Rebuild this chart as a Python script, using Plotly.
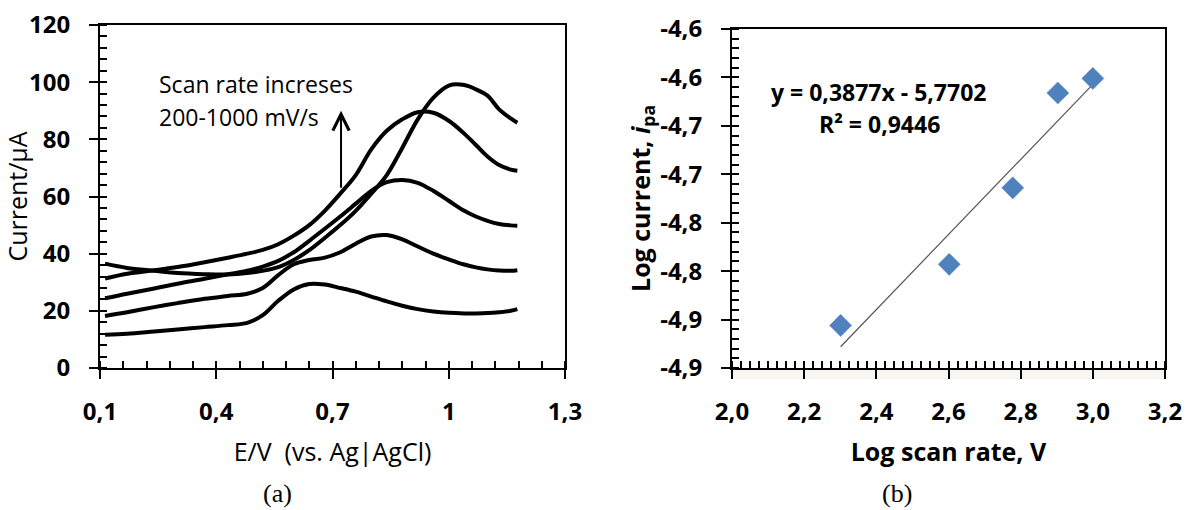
import plotly.graph_objects as go

# ---------------- data: panel (a) cyclic voltammograms ----------------
E_V = [0.113, 0.17, 0.24, 0.30, 0.37, 0.43, 0.48, 0.52, 0.56, 0.60, 0.64, 0.68,
       0.72, 0.76, 0.80, 0.84, 0.88, 0.92, 0.96, 1.00, 1.04, 1.07, 1.10, 1.13,
       1.16, 1.177]
I_200 = [11.6, 12.0, 12.8, 13.5, 14.3, 15.0, 15.8, 18.5, 23.5, 27.5, 29.4, 29.2,
         28.0, 26.7, 25.0, 23.3, 21.8, 20.6, 19.8, 19.3, 19.1, 19.1, 19.2, 19.5,
         20.0, 20.6]
I_400 = [18.2, 19.5, 21.3, 22.7, 24.2, 25.2, 26.0, 28.0, 32.5, 36.3, 37.8, 38.6,
         40.5, 43.5, 46.0, 46.5, 45.0, 42.5, 40.0, 38.0, 36.2, 35.2, 34.5, 34.1,
         34.0, 34.2]
I_600 = [24.4, 26.0, 27.8, 29.5, 31.2, 32.8, 34.0, 35.5, 37.5, 40.5, 44.5, 48.7,
         53.0, 57.5, 62.0, 65.0, 65.8, 64.8, 62.0, 58.5, 55.0, 53.0, 51.5, 50.4,
         49.9, 49.8]
I_800 = [31.3, 33.0, 34.2, 35.3, 37.0, 38.6, 40.0, 41.3, 43.3, 46.3, 50.0, 55.0,
         61.0, 67.5, 76.5, 83.0, 87.0, 89.5, 89.3, 86.5, 82.0, 78.0, 74.0, 71.0,
         69.4, 69.0]
I_1000 = [36.5, 35.0, 34.0, 33.2, 32.8, 32.7, 33.2, 34.0, 35.3, 37.8, 41.2, 45.5,
          50.0, 55.0, 61.0, 67.5, 77.0, 87.0, 94.5, 98.8, 99.0, 97.5, 95.3, 90.5,
          87.3, 85.8]
cv_series = [I_200, I_400, I_600, I_800, I_1000]

a_xtick_vals = [0.1, 0.4, 0.7, 1.0, 1.3]
a_xtick_text = ["0,1", "0,4", "0,7", "1", "1,3"]
a_ytick_vals = [0, 20, 40, 60, 80, 100, 120]
a_ytick_text = ["0", "20", "40", "60", "80", "100", "120"]

# ---------------- data: panel (b) log-log plot ----------------
log_scan_rate = [2.301, 2.602, 2.778, 2.903, 3.000]
log_current = [-4.856, -4.793, -4.714, -4.616, -4.601]
fit_slope = 0.3877
fit_intercept = -5.7702
fit_x = [2.301, 3.000]

b_xtick_vals = [2.0, 2.2, 2.4, 2.6, 2.8, 3.0, 3.2]
b_xtick_text = ["2,0", "2,2", "2,4", "2,6", "2,8", "3,0", "3,2"]
b_ytick_vals = [-4.90, -4.85, -4.80, -4.75, -4.70, -4.65, -4.60, -4.55]
b_ytick_text = ["-4,9", "-4,9", "-4,8", "-4,8", "-4,7", "-4,7", "-4,6", "-4,6"]

# ---------------- figure ----------------
FONT = "Open Sans"
fig = go.Figure()

for ys in cv_series:
    fig.add_trace(go.Scatter(
        x=E_V, y=ys, mode="lines", xaxis="x", yaxis="y",
        line=dict(color="black", width=4, shape="spline", smoothing=1.0),
        showlegend=False, hoverinfo="skip"))

fit_y = [fit_slope * v + fit_intercept for v in fit_x]
fig.add_trace(go.Scatter(
    x=fit_x, y=fit_y, mode="lines", xaxis="x2", yaxis="y2",
    line=dict(color="#555555", width=1.2), showlegend=False, hoverinfo="skip"))
fig.add_trace(go.Scatter(
    x=log_scan_rate, y=log_current, mode="markers", xaxis="x2", yaxis="y2",
    marker=dict(symbol="diamond", size=17, color="#4F81BD",
                line=dict(color="#5B8BC8", width=0.5)),
    showlegend=False))

tickfont = dict(family=FONT, size=24, color="black", weight="bold")
common_axis = dict(showgrid=False, zeroline=False, showline=True, linecolor="black",
                   linewidth=2, mirror=True, ticks="outside", ticklen=9, tickwidth=2,
                   tickcolor="black", tickfont=tickfont, automargin=False,
                   tickmode="array")

fig.update_layout(
    width=1186, height=510,
    margin=dict(l=0, r=0, t=0, b=0),
    paper_bgcolor="white", plot_bgcolor="white",
    xaxis=dict(common_axis, domain=[100/1186, 565/1186], range=[0.1, 1.3],
               tickvals=a_xtick_vals, ticktext=a_xtick_text, anchor="y",
               ticklabelstandoff=12,
               minor=dict(dtick=0.06, tick0=0.1, ticks="inside", ticklen=7,
                          tickwidth=2, tickcolor="black"),
               title=dict(text="E/V  (vs. Ag|AgCl)", standoff=18,
                          font=dict(family=FONT, size=25, color="black"))),
    yaxis=dict(common_axis, domain=[142/510, 485/510], range=[0, 120],
               tickvals=a_ytick_vals, ticktext=a_ytick_text, anchor="x",
               ticklabelstandoff=14,
               minor=dict(dtick=4, tick0=0, ticks="inside", ticklen=7,
                          tickwidth=2, tickcolor="black"),
               title=dict(text="Current/µA", standoff=8,
                          font=dict(family=FONT, size=25, color="black"))),
    xaxis2=dict(common_axis, domain=[732/1186, 1165/1186], range=[2.0, 3.2],
                tickvals=b_xtick_vals, ticktext=b_xtick_text, anchor="y2",
                ticklabelstandoff=12,
                minor=dict(dtick=0.025, tick0=2.0, ticks="inside", ticklen=7,
                           tickwidth=2, tickcolor="black"),
                title=dict(text="<b>Log scan rate, V</b>", standoff=18,
                           font=dict(family=FONT, size=25, color="black"))),
    yaxis2=dict(common_axis, domain=[142/510, 481/510], range=[-4.90, -4.55],
                tickvals=b_ytick_vals, ticktext=b_ytick_text, anchor="x2",
                ticklabelstandoff=14,
                minor=dict(dtick=0.01, tick0=-4.90, ticks="inside", ticklen=7,
                           tickwidth=2, tickcolor="black"),
                title=dict(text="<b>Log current, <i>i</i><sub>pa</sub></b>", standoff=2,
                           font=dict(family=FONT, size=25, color="black"))),
)

# faint shadow under panel (b) x axis
fig.add_shape(type="rect", xref="paper", yref="paper",
              x0=732/1186, x1=1165/1186, y0=(510-379)/510, y1=(510-369)/510,
              line=dict(width=0), fillcolor="rgba(225,220,195,0.25)", layer="below")

# arrow + annotation in panel (a)
fig.add_annotation(x=0.722, y=90, ax=0.722, ay=62.5, xref="x", yref="y",
                   axref="x", ayref="y", showarrow=True, arrowhead=5,
                   arrowsize=1.6, arrowwidth=2, arrowcolor="black", text="")
fig.add_annotation(x=0.247, y=99.4, xref="x", yref="y", xanchor="left",
                   showarrow=False, text="Scan rate increses",
                   font=dict(family=FONT, size=23, color="black"))
fig.add_annotation(x=0.247, y=87.9, xref="x", yref="y", xanchor="left",
                   showarrow=False, text="200-1000 mV/s",
                   font=dict(family=FONT, size=23, color="black"))

# regression text in panel (b)
fig.add_annotation(x=2.407, y=-4.615, xref="x2", yref="y2", showarrow=False,
                   text="<b>y = 0,3877x - 5,7702</b>",
                   font=dict(family=FONT, size=23, color="black"))
fig.add_annotation(x=2.41, y=-4.648, xref="x2", yref="y2", showarrow=False,
                   text="<b>R² = 0,9446</b>",
                   font=dict(family=FONT, size=23, color="black"))

# panel labels
fig.add_annotation(x=277/1186, y=(510-493)/510, xref="paper", yref="paper",
                   xanchor="center", yanchor="middle",
                   showarrow=False, text="(a)",
                   font=dict(family="Liberation Serif", size=26, color="black"))
fig.add_annotation(x=897/1186, y=(510-493)/510, xref="paper", yref="paper",
                   xanchor="center", yanchor="middle",
                   showarrow=False, text="(b)",
                   font=dict(family="Liberation Serif", size=26, color="black"))

fig.write_html("out.html", config={"displayModeBar": False},
               post_script="document.body.style.margin='0';")
